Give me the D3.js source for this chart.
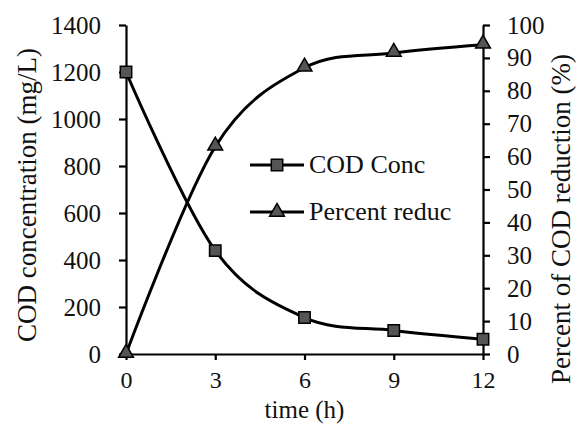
<!DOCTYPE html>
<html lang="en">
<head>
<meta charset="UTF-8">
<title>COD reduction</title>
<script src="https://d3js.org/d3.v7.min.js"></script>
<style>
    body { margin: 0; background: #fff; }
    text { font-family: "Liberation Serif", "Times New Roman", serif; fill: #111; }
    .axis path, .axis line { stroke: #000; stroke-width: 2.2px; }
    .axis text { font-size: 25px; font-family: "Liberation Serif", serif; }
    .title { font-size: 26px; }
    .line { fill: none; stroke: #000; stroke-width: 3px; }
    .mark { fill: #555; stroke: #000; stroke-width: 1.5px; }
</style>
</head>
<body>
<svg id="chart"></svg>
<script>
    // data
    const times = [0, 3, 6, 9, 12];
    const codConc = [1200, 440, 155, 100, 63];
    const percentReduc = [0, 63, 87, 91.5, 94];
    const leftTicks = [0, 200, 400, 600, 800, 1000, 1200, 1400];
    const rightTicks = [0, 10, 20, 30, 40, 50, 60, 70, 80, 90, 100];

    const svgWidth = 579, svgHeight = 424;
    const margin = { top: 25, right: 96, bottom: 70, left: 126 };
    const width = svgWidth - margin.left - margin.right;
    const height = svgHeight - margin.top - margin.bottom;

    const svg = d3.select("#chart")
        .attr("width", svgWidth)
        .attr("height", svgHeight);
    const plot = svg.append("g")
        .attr("transform", "translate(" + margin.left + "," + margin.top + ")");

    const x = d3.scaleLinear().domain([0, 12]).range([0, width]);
    const yLeft = d3.scaleLinear().domain([0, 1400]).range([height, 0]);
    const yRight = d3.scaleLinear().domain([0, 100]).range([height, 0]);

    // axes
    const xAxis = plot.append("g")
        .attr("class", "axis")
        .attr("transform", "translate(0," + height + ")")
        .call(d3.axisBottom(x).tickValues(times).tickSize(6).tickSizeOuter(0).tickPadding(11));
    xAxis.selectAll("text").style("font-size", "24px");

    plot.append("g")
        .attr("class", "axis")
        .call(d3.axisLeft(yLeft).tickValues(leftTicks).tickFormat(d3.format("d"))
            .tickSize(7).tickSizeOuter(0).tickPadding(18));

    plot.append("g")
        .attr("class", "axis")
        .attr("transform", "translate(" + width + ",0)")
        .call(d3.axisRight(yRight).tickValues(rightTicks).tickSize(7).tickSizeOuter(0).tickPadding(17));

    // axis titles
    svg.append("text")
        .attr("class", "title")
        .style("font-size", "25px")
        .attr("x", margin.left + width / 2)
        .attr("y", 418)
        .attr("text-anchor", "middle")
        .text("time (h)");

    svg.append("text")
        .attr("class", "title")
        .style("font-size", "27px")
        .attr("transform", "translate(36,195) rotate(-90)")
        .attr("text-anchor", "middle")
        .text("COD concentration (mg/L)");

    svg.append("text")
        .attr("class", "title")
        .style("font-size", "27px")
        .attr("transform", "translate(570,219) rotate(-90)")
        .attr("text-anchor", "middle")
        .text("Percent of COD reduction (%)");

    // lines
    const codLine = d3.line()
        .x((d, i) => x(times[i]))
        .y(d => yLeft(d))
        .curve(d3.curveCardinal.tension(0));

    const pctLine = d3.line()
        .x((d, i) => x(times[i]))
        .y(d => yRight(d))
        .curve(d3.curveCardinal.tension(0));

    plot.append("path").datum(codConc).attr("class", "line").attr("d", codLine);
    plot.append("path").datum(percentReduc).attr("class", "line").attr("d", pctLine);

    const square = d3.symbol().type(d3.symbolSquare).size(130);
    const triangle = d3.symbol().type(d3.symbolTriangle).size(95);

    plot.selectAll(".sq")
        .data(codConc)
        .enter().append("path")
        .attr("class", "mark")
        .attr("d", square)
        .attr("transform", (d, i) => "translate(" + x(times[i]) + "," + yLeft(d) + ")");

    plot.selectAll(".tri")
        .data(percentReduc)
        .enter().append("path")
        .attr("class", "mark")
        .attr("d", triangle)
        .attr("transform", (d, i) => "translate(" + x(times[i]) + "," + (yRight(d) - 1) + ")");

    // legend
    const legend = svg.append("g").attr("transform", "translate(250,165)");
    const legendItems = [
        { label: "COD Conc", sym: square },
        { label: "Percent reduc", sym: triangle }
    ];
    const item = legend.selectAll("g")
        .data(legendItems)
        .enter().append("g")
        .attr("transform", (d, i) => "translate(0," + i * 47 + ")");
    item.append("line")
        .attr("x1", 0).attr("x2", 54)
        .attr("stroke", "#000").attr("stroke-width", 3);
    item.append("path")
        .attr("class", "mark")
        .attr("d", d => d.sym())
        .attr("transform", "translate(27,0)");
    item.append("text")
        .attr("class", "title")
        .attr("x", 59)
        .attr("y", 8)
        .text(d => d.label);
</script>
</body>
</html>
